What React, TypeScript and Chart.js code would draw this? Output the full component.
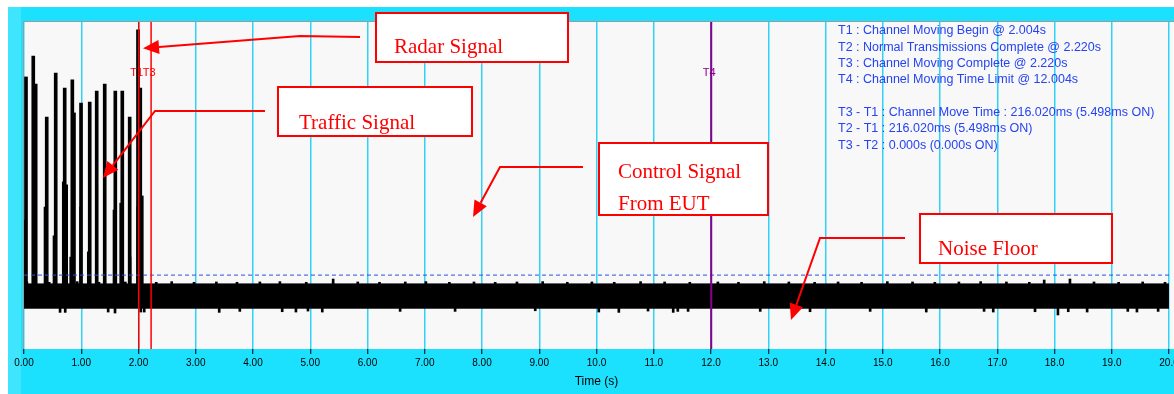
import React, { useEffect, useRef } from 'react';
import { Chart, registerables } from 'chart.js';

Chart.register(...registerables);

// ---------- data ----------
const tickLabels = ['0.00', '1.00', '2.00', '3.00', '4.00', '5.00', '6.00', '7.00', '8.00', '9.00', '10.0', '11.0', '12.0', '13.0', '14.0', '15.0', '16.0', '17.0', '18.0', '19.0', '20.0'];

const trafficTimes = [0.035, 0.162, 0.204, 0.397, 0.554, 0.711, 0.844, 0.873, 0.996, 1.148, 1.27, 1.41, 1.595, 1.717, 1.846, 1.991, 2.031];
const trafficPeaks = [83.2, 89.6, 81.0, 70.9, 84.4, 79.8, 82.3, 72.2, 75.2, 75.5, 78.9, 81.0, 78.9, 78.9, 70.9, 97.6, 79.8];

const echoTimes = [0.017, 0.192, 0.367, 0.524, 0.686, 0.745, 0.816, 0.99, 1.123, 1.572, 1.689, 1.852, 1.987, 2.066];
const echoPeaks = [39.4, 41.6, 43.4, 34.6, 51.1, 50.2, 28.1, 43.4, 29.7, 42.5, 44.6, 28.1, 43.4, 46.8];

const pulseBase = 16;

const noiseTimes = [0, 20];
const noiseTop = [19.9, 19.9];
const noiseBottom = [12.5, 12.5];

const noiseBurstTimes = [0.05, 0.44, 0.93, 1.31, 1.77, 2.31, 2.58, 2.97, 3.36, 3.72, 4.12, 4.47, 4.93, 5.4, 5.83, 6.21, 6.66, 7.02, 7.43, 7.86, 8.23, 8.61, 9.06, 9.49, 9.92, 10.31, 10.77, 11.19, 11.63, 12.12, 12.48, 12.93, 13.36, 13.81, 14.22, 14.63, 15.08, 15.52, 15.91, 16.33, 16.71, 17.16, 17.56, 17.82, 18.27, 18.69, 19.12, 19.54, 19.93];
const noiseBurstPeaks = [20.5, 20.4, 20.6, 20.4, 20.5, 20.4, 20.6, 20.4, 20.5, 20.4, 20.5, 20.6, 20.4, 21.4, 20.5, 20.4, 20.5, 20.6, 20.4, 20.5, 20.4, 20.5, 20.6, 20.4, 20.5, 20.4, 20.6, 20.5, 20.4, 20.5, 20.4, 20.6, 20.5, 20.4, 20.5, 20.4, 20.6, 20.5, 20.4, 20.5, 20.6, 20.5, 20.4, 21.1, 21.4, 20.5, 20.4, 20.5, 20.4];

const noiseDipTimes = [0.63, 0.72, 1.47, 1.59, 2.04, 2.1, 3.41, 3.77, 4.51, 4.75, 4.96, 5.21, 6.57, 7.53, 8.93, 10.04, 10.39, 10.9, 11.34, 11.42, 11.6, 12.86, 13.73, 14.78, 15.76, 16.77, 16.93, 17.66, 18.06, 18.24, 18.57, 19.28, 19.44, 19.81];
const noiseDipLows = [11.2, 11.2, 11.3, 11.0, 11.3, 11.3, 11.2, 11.5, 11.4, 11.3, 11.6, 11.3, 11.5, 11.5, 11.7, 11.3, 11.2, 11.6, 11.2, 11.5, 11.5, 11.5, 11.4, 11.5, 11.3, 11.5, 11.3, 11.4, 10.4, 11.4, 11.3, 11.5, 11.3, 11.5];

const thresholdLevel = 22.6;

const markerNames = ['T1', 'T3', 'T4'];
const markerTimes = [2.004, 2.22, 12.004];

const infoLines = [
  'T1 : Channel Moving Begin @ 2.004s',
  'T2 : Normal Transmissions Complete @ 2.220s',
  'T3 : Channel Moving Complete @ 2.220s',
  'T4 : Channel Moving Time Limit @ 12.004s',
  '',
  'T3 - T1 : Channel Move Time : 216.020ms (5.498ms ON)',
  'T2 - T1 : 216.020ms (5.498ms ON)',
  'T3 - T2 : 0.000s (0.000s ON)',
];

const calloutLabels = [['Radar Signal'], ['Traffic Signal'], ['Control Signal', 'From EUT'], ['Noise Floor']];
const calloutTargetTimes = [2.079, 1.38, 7.843, 13.397];
const calloutTargetLevels = [92.0, 52.3, 40.4, 8.9];

// ---------- layout / style ----------
const W = 1174;
const H = 394;
const markerColors = ['#ff0000', '#ff0000', '#8a008a'];
const markerWidths = [1.5, 1.5, 2];
const calloutLayout = [
  { box: [376, 13, 568, 62], text: [394, 53], path: [[360, 37], [300, 36]] },
  { box: [278, 87, 472, 136], text: [299, 129], path: [[265, 111], [155, 111]] },
  { box: [599, 143, 768, 215], text: [618, 178], path: [[583, 167], [500, 167]] },
  { box: [920, 214, 1112, 263], text: [938, 255], path: [[905, 238], [820, 238]] },
];
const sans = '"Liberation Sans", Arial, sans-serif';
const serif = '"Liberation Serif", "Times New Roman", serif';

const framePlugin = {
  id: 'frame',
  beforeDraw(chart: any) {
    const { ctx, chartArea: a, width, height } = chart;
    ctx.save();
    ctx.fillStyle = '#ffffff';
    ctx.fillRect(0, 0, width, height);
    ctx.fillStyle = '#1be1ff';
    ctx.fillRect(8, 7, width - 8, height - 7);
    ctx.fillStyle = '#3fe5fc';
    ctx.fillRect(8, 7, 13, height - 7);
    ctx.fillStyle = '#f8f8f8';
    ctx.fillRect(a.left - 1, a.top, width - a.left + 1, a.bottom - a.top);
    ctx.restore();
  },
  afterDraw(chart: any) {
    const { ctx, chartArea: a, scales } = chart;
    const xs = scales.x;
    const ys = scales.y;
    ctx.save();
    // plot border
    ctx.strokeStyle = '#9a9a9a';
    ctx.lineWidth = 1;
    ctx.beginPath();
    ctx.moveTo(a.left - 0.5, a.bottom);
    ctx.lineTo(a.left - 0.5, a.top - 0.5);
    ctx.lineTo(W, a.top - 0.5);
    ctx.stroke();

    // marker labels
    ctx.font = `11px ${sans}`;
    ctx.textAlign = 'center';
    ctx.textBaseline = 'middle';
    markerNames.forEach((n, i) => {
      ctx.fillStyle = markerColors[i];
      ctx.fillText(n, xs.getPixelForValue(markerTimes[i]) - 2, 73);
    });

    // info text
    ctx.font = `12.5px ${sans}`;
    ctx.textAlign = 'left';
    ctx.fillStyle = '#2643f2';
    infoLines.forEach((l, i) => {
      if (l) ctx.fillText(l, 838, 31 + i * 16.3);
    });

    // callouts
    calloutLabels.forEach((lines, i) => {
      const L = calloutLayout[i];
      const [x0, y0, x1, y1] = L.box;
      ctx.fillStyle = '#ffffff';
      ctx.fillRect(x0, y0, x1 - x0, y1 - y0);
      ctx.strokeStyle = '#ff0000';
      ctx.lineWidth = 2;
      ctx.strokeRect(x0, y0, x1 - x0, y1 - y0);
      ctx.fillStyle = '#ff0000';
      ctx.font = `21px ${serif}`;
      ctx.textAlign = 'left';
      ctx.textBaseline = 'alphabetic';
      lines.forEach((t, j) => ctx.fillText(t, L.text[0], L.text[1] + j * 32));

      const tip = [xs.getPixelForValue(calloutTargetTimes[i]), ys.getPixelForValue(calloutTargetLevels[i])];
      const pts = L.path;
      const prev = pts[pts.length - 1];
      const ang = Math.atan2(tip[1] - prev[1], tip[0] - prev[0]);
      const len = 16;
      const hw = 7;
      const bx = tip[0] - len * Math.cos(ang);
      const by = tip[1] - len * Math.sin(ang);
      ctx.strokeStyle = '#ff0000';
      ctx.lineWidth = 2;
      ctx.beginPath();
      ctx.moveTo(pts[0][0], pts[0][1]);
      for (let k = 1; k < pts.length; k++) ctx.lineTo(pts[k][0], pts[k][1]);
      ctx.lineTo(bx, by);
      ctx.stroke();
      ctx.beginPath();
      ctx.moveTo(tip[0], tip[1]);
      ctx.lineTo(bx + hw * Math.sin(ang), by - hw * Math.cos(ang));
      ctx.lineTo(bx - hw * Math.sin(ang), by + hw * Math.cos(ang));
      ctx.closePath();
      ctx.fill();
    });
    ctx.restore();
  },
};

export default function App() {
  const ref = useRef<HTMLCanvasElement>(null);
  useEffect(() => {
    document.body.style.margin = '0';
    const pulse = (times: number[], peaks: number[], base: number) => times.map((t, i) => ({ x: t, y: [base, peaks[i]] }));
    const markerSets = markerTimes.map((t, i) => ({
      type: 'line',
      label: markerNames[i],
      data: [{ x: t, y: 0 }, { x: t, y: 100 }],
      borderColor: markerColors[i],
      borderWidth: markerWidths[i],
      pointRadius: 0,
      fill: false,
    }));
    const chart = new Chart(ref.current as HTMLCanvasElement, {
      type: 'bar',
      data: {
        datasets: [
          ...markerSets,
          {
            type: 'line',
            label: 'Threshold',
            data: [{ x: 0, y: thresholdLevel }, { x: 20, y: thresholdLevel }],
            borderColor: '#2a4fd6',
            borderWidth: 1,
            borderDash: [4, 3],
            pointRadius: 0,
            fill: false,
          },
          { type: 'bar', label: 'Traffic', data: pulse(trafficTimes, trafficPeaks, pulseBase), backgroundColor: '#000', barThickness: 3, grouped: false },
          { type: 'bar', label: 'Echo', data: pulse(echoTimes, echoPeaks, pulseBase), backgroundColor: '#000', barThickness: 2, grouped: false },
          { type: 'bar', label: 'Noise bursts', data: pulse(noiseBurstTimes, noiseBurstPeaks, noiseTop[0] - 1), backgroundColor: '#000', barThickness: 2, grouped: false },
          { type: 'bar', label: 'Noise dips', data: pulse(noiseDipTimes, noiseDipLows, noiseBottom[0] + 1), backgroundColor: '#000', barThickness: 2, grouped: false },
          {
            type: 'line',
            label: 'Noise top',
            data: noiseTimes.map((t, i) => ({ x: t, y: noiseTop[i] })),
            borderColor: '#000',
            borderWidth: 1,
            backgroundColor: '#000',
            pointRadius: 0,
            fill: '+1',
          },
          {
            type: 'line',
            label: 'Noise bottom',
            data: noiseTimes.map((t, i) => ({ x: t, y: noiseBottom[i] })),
            borderColor: '#000',
            borderWidth: 1,
            pointRadius: 0,
            fill: false,
          },
        ] as any,
      },
      options: {
        responsive: false,
        animation: false,
        layout: { padding: { left: 24, top: 22, right: 5, bottom: 0 } },
        plugins: { legend: { display: false }, tooltip: { enabled: false } },
        scales: {
          x: {
            type: 'linear',
            min: 0,
            max: 20,
            offset: false,
            border: { display: false },
            grid: { offset: false, color: '#2fd3f6', lineWidth: 1.5, drawTicks: true, tickLength: 5, tickColor: '#000', tickWidth: 1 },
            ticks: {
              stepSize: 1,
              autoSkip: false,
              maxRotation: 0,
              padding: 3,
              color: '#000',
              font: { family: sans, size: 10 },
              callback: (_v: any, i: number) => tickLabels[i],
            },
            title: { display: true, text: 'Time (s)', color: '#000', font: { family: sans, size: 12 }, padding: { top: 0, bottom: 5 } },
            afterFit: (s: any) => {
              s.height = 45;
              s.paddingLeft = 0;
              s.paddingRight = 0;
            },
          },
          y: { type: 'linear', min: 0, max: 100, display: false, grid: { display: false } },
        },
      } as any,
      plugins: [framePlugin],
    });
    return () => chart.destroy();
  }, []);
  return (
    <div style={{ position: 'absolute', left: 0, top: 0, width: W, height: H }}>
      <canvas ref={ref} width={W} height={H} style={{ display: 'block' }} />
    </div>
  );
}
